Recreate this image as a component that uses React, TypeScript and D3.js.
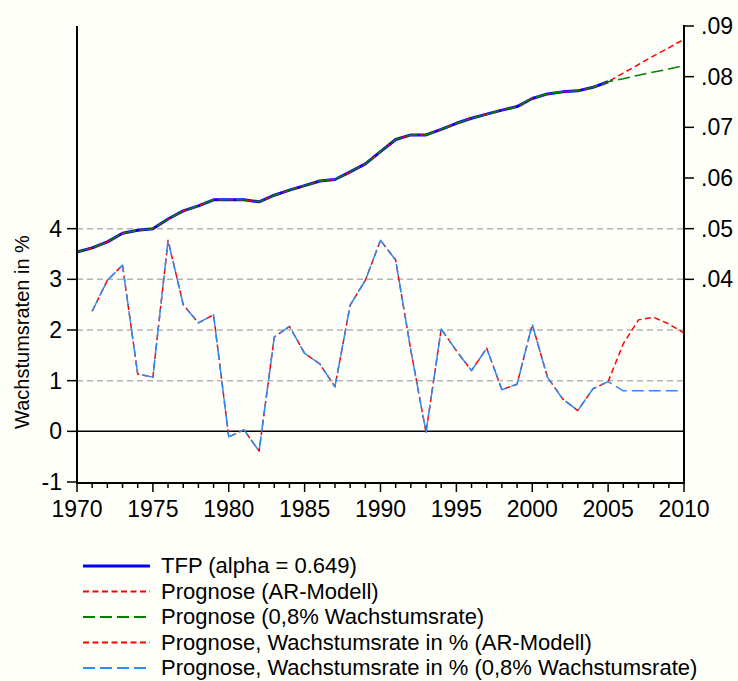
import { useEffect, useRef } from "react";
import * as d3 from "d3";

// TFP level (right axis), 1970-2005
const tfpYears = d3.range(1970, 2006);
const tfp = [
  0.0454, 0.0462, 0.0474, 0.0491, 0.0497, 0.05, 0.0519, 0.0535, 0.0545, 0.0557,
  0.0557, 0.0557, 0.0553, 0.0566, 0.0576, 0.0585, 0.0594, 0.0597, 0.0612, 0.0628,
  0.0652, 0.0676, 0.0685, 0.0685, 0.0696, 0.0708, 0.0718, 0.0726, 0.0734, 0.0741,
  0.0757, 0.0766, 0.077, 0.0772, 0.0779, 0.079,
];

// forecast years 2006-2010
const fcYears = [2006, 2007, 2008, 2009, 2010];
const tfpAR = [0.0807, 0.0824, 0.0841, 0.0857, 0.0874];
const tfpConst = [0.0796, 0.0803, 0.0809, 0.0815, 0.0822];

// growth rates in % (left axis), 1971-2005
const growthYears = d3.range(1971, 2006);
const growth = [
  2.37, 2.98, 3.28, 1.13, 1.07, 3.77, 2.5, 2.14, 2.3, -0.11,
  0.03, -0.39, 1.86, 2.07, 1.54, 1.33, 0.88, 2.49, 2.98, 3.77,
  3.38, 1.6, -0.02, 2.02, 1.59, 1.2, 1.64, 0.82, 0.93, 2.11,
  1.07, 0.64, 0.41, 0.84, 0.98,
];
const growthAR = [1.73, 2.2, 2.25, 2.12, 1.94];
const growthConst = [0.8, 0.8, 0.8, 0.8, 0.8];

const leftTicks = [-1, 0, 1, 2, 3, 4];
const gridTicks = [1, 2, 3, 4];
const rightTicks = [0.04, 0.05, 0.06, 0.07, 0.08, 0.09];
const xLabels = [1970, 1975, 1980, 1985, 1990, 1995, 2000, 2005, 2010];

const legendItems = [
  { label: "TFP (alpha = 0.649)", color: "#0000ff", dash: "", width: 3 },
  { label: "Prognose (AR-Modell)", color: "#ff0000", dash: "6,3.5", width: 1.5 },
  { label: "Prognose (0,8% Wachstumsrate)", color: "#008000", dash: "12,5", width: 1.5 },
  { label: "Prognose, Wachstumsrate in % (AR-Modell)", color: "#ff0000", dash: "6,3.5", width: 1.5 },
  { label: "Prognose, Wachstumsrate in % (0,8% Wachstumsrate)", color: "#2a8cf5", dash: "12,5", width: 1.5 },
];

const FONT = "'Liberation Sans', Arial, sans-serif";

export default function App() {
  const ref = useRef<SVGSVGElement>(null);

  useEffect(() => {
    const svg = d3.select(ref.current);
    svg.selectAll("*").remove();

    const x = d3.scaleLinear().domain([1970, 2010]).range([77, 684]);
    const yL = d3.scaleLinear().domain([-1, 8]).range([482, 26]);
    const yR = d3.scaleLinear().domain([0, 0.09]).range([482, 26]);

    svg.append("rect").attr("width", 738).attr("height", 681).attr("fill", "#fffffa");

    // gridlines
    svg
      .selectAll(".grid")
      .data(gridTicks)
      .enter()
      .append("line")
      .attr("x1", x(1970))
      .attr("x2", x(2010))
      .attr("y1", (d) => yL(d))
      .attr("y2", (d) => yL(d))
      .attr("stroke", "#b4b4b4")
      .attr("stroke-width", 1.5)
      .attr("stroke-dasharray", "6,4");

    svg
      .append("line")
      .attr("x1", x(1970))
      .attr("x2", x(2010))
      .attr("y1", yL(0))
      .attr("y2", yL(0))
      .attr("stroke", "#000")
      .attr("stroke-width", 1.5);

    const lineR = d3
      .line<[number, number]>()
      .x((d) => x(d[0]))
      .y((d) => yR(d[1]));
    const lineL = d3
      .line<[number, number]>()
      .x((d) => x(d[0]))
      .y((d) => yL(d[1]));

    const tfpHist: [number, number][] = tfpYears.map((yr, i) => [yr, tfp[i]]);
    const tfpARs: [number, number][] = tfpHist.concat(fcYears.map((yr, i) => [yr, tfpAR[i]]));
    const tfpCs: [number, number][] = tfpHist.concat(fcYears.map((yr, i) => [yr, tfpConst[i]]));
    const gHist: [number, number][] = growthYears.map((yr, i) => [yr, growth[i]]);
    const gARs: [number, number][] = gHist.concat(fcYears.map((yr, i) => [yr, growthAR[i]]));
    const gCs: [number, number][] = gHist.concat(fcYears.map((yr, i) => [yr, growthConst[i]]));

    const draw = (d: string | null, item: (typeof legendItems)[number]) =>
      svg
        .append("path")
        .attr("d", d)
        .attr("fill", "none")
        .attr("stroke", item.color)
        .attr("stroke-width", item.width)
        .attr("stroke-dasharray", item.dash)
        .attr("stroke-linejoin", "round");

    draw(lineR(tfpHist), legendItems[0]);
    draw(lineR(tfpARs), legendItems[1]);
    draw(lineR(tfpCs), legendItems[2]);
    draw(lineL(gARs), legendItems[3]);
    draw(lineL(gCs), legendItems[4]);

    // axes
    const ax = svg.append("g").attr("stroke", "#000").attr("stroke-width", 2);
    ax.append("line").attr("x1", x(1970)).attr("x2", x(1970)).attr("y1", 26).attr("y2", 483);
    ax.append("line").attr("x1", x(2010)).attr("x2", x(2010)).attr("y1", 25).attr("y2", 483);
    ax.append("line").attr("x1", x(1970) - 1).attr("x2", x(2010) + 1).attr("y1", 483).attr("y2", 483);

    ax.selectAll(".xt")
      .data(d3.range(1970, 2011))
      .enter()
      .append("line")
      .attr("x1", (d) => x(d))
      .attr("x2", (d) => x(d))
      .attr("y1", 483)
      .attr("y2", (d) => (d % 5 === 0 ? 492 : 488))
      .attr("stroke-width", 1.5);

    ax.selectAll(".lt")
      .data(leftTicks)
      .enter()
      .append("line")
      .attr("x1", x(1970) - 10)
      .attr("x2", x(1970))
      .attr("y1", (d) => yL(d))
      .attr("y2", (d) => yL(d))
      .attr("stroke-width", 1.5);

    ax.selectAll(".rt")
      .data(rightTicks)
      .enter()
      .append("line")
      .attr("x1", x(2010))
      .attr("x2", x(2010) + 10)
      .attr("y1", (d) => yR(d))
      .attr("y2", (d) => yR(d))
      .attr("stroke-width", 1.5);

    const txt = svg.append("g").attr("font-family", FONT).attr("fill", "#000");

    txt
      .selectAll(".xl")
      .data(xLabels)
      .enter()
      .append("text")
      .attr("x", (d) => x(d))
      .attr("y", 517)
      .attr("text-anchor", "middle")
      .attr("font-size", 23)
      .text((d) => d);

    txt
      .selectAll(".yl")
      .data(leftTicks)
      .enter()
      .append("text")
      .attr("x", 62)
      .attr("y", (d) => yL(d) + 8)
      .attr("text-anchor", "end")
      .attr("font-size", 23)
      .text((d) => d);

    txt
      .selectAll(".yr")
      .data(rightTicks)
      .enter()
      .append("text")
      .attr("x", 701)
      .attr("y", (d) => yR(d) + 8)
      .attr("font-size", 23)
      .text((d) => d3.format(".2f")(d).replace(/^0/, ""));

    txt
      .append("text")
      .attr("transform", "translate(29,332) rotate(-90)")
      .attr("text-anchor", "middle")
      .attr("font-size", 20)
      .text("Wachstumsraten in %");

    // legend
    const lg = svg
      .selectAll(".lg")
      .data(legendItems)
      .enter()
      .append("g")
      .attr("transform", (d, i) => `translate(0,${566 + i * 25.5})`);
    lg.append("line")
      .attr("x1", 83)
      .attr("x2", 150)
      .attr("stroke", (d) => d.color)
      .attr("stroke-width", (d) => (d.width > 2 ? 3 : 2))
      .attr("stroke-dasharray", (d) => d.dash);
    lg.append("text")
      .attr("x", 161)
      .attr("y", 7)
      .attr("font-family", FONT)
      .attr("font-size", 22)
      .text((d) => d.label);
  }, []);

  return (
    <svg
      ref={ref}
      width={738}
      height={681}
      style={{ position: "absolute", left: 0, top: 0 }}
    />
  );
}
